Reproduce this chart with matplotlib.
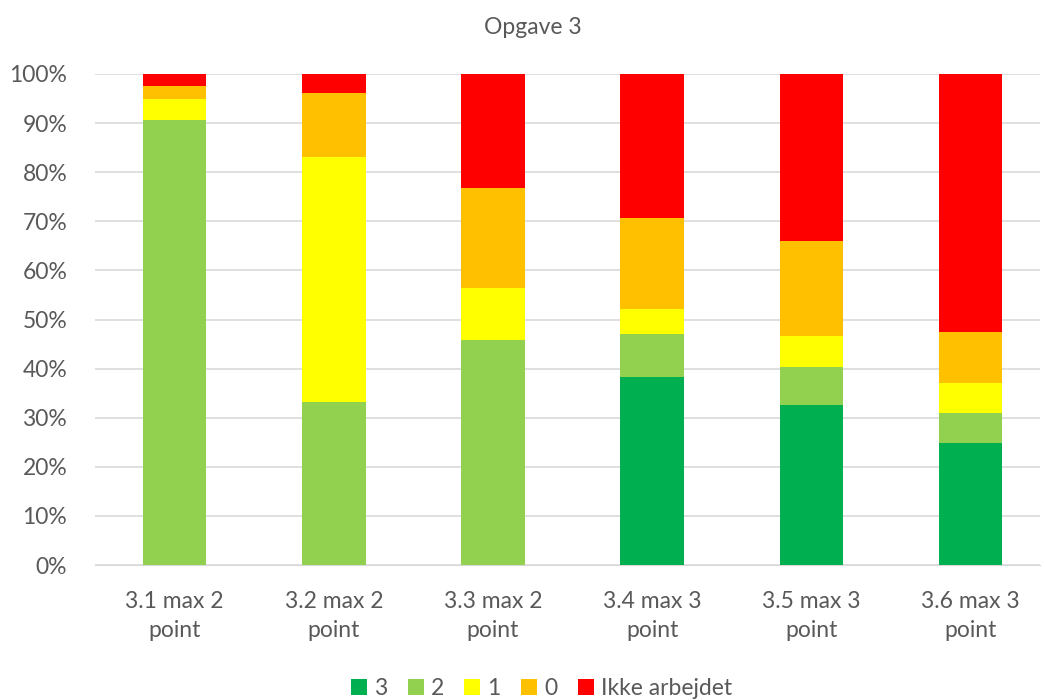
import matplotlib.pyplot as plt
import numpy as np

plt.rcParams['font.family'] = ['Lato', 'DejaVu Sans']

categories = ["3.1 max 2\npoint", "3.2 max 2\npoint", "3.3 max 2\npoint",
              "3.4 max 3\npoint", "3.5 max 3\npoint", "3.6 max 3\npoint"]
p3 = [0.0, 0.0, 0.0, 38.2, 32.6, 24.8]
p2 = [90.6, 33.2, 45.8, 8.8, 7.7, 6.1]
p1 = [4.3, 49.9, 10.6, 5.2, 6.3, 6.1]
p0 = [2.6, 13.0, 20.4, 18.5, 19.3, 10.4]
ikke = [2.5, 3.9, 23.2, 29.3, 34.1, 52.6]

series = [("3", p3, "#00b050"), ("2", p2, "#92d050"), ("1", p1, "#ffff00"),
          ("0", p0, "#ffc000"), ("Ikke arbejdet", ikke, "#ff0000")]

grey = "#595959"
fs = 16.5
fig = plt.figure(figsize=(10.45, 7), dpi=100)
ax = fig.add_axes([95 / 1045, 135 / 700, 945 / 1045, 491 / 700])

x = np.arange(len(categories))
bottom = np.zeros(len(categories))
for name, vals, col in series:
    vals = np.array(vals)
    ax.bar(x, vals, 0.4, bottom=bottom, color=col, label=name, zorder=3)
    bottom += vals

ax.set_ylim(0, 100)
ax.set_xlim(-0.5, 945 / 159.2 - 0.5)
ax.set_yticks(np.arange(0, 101, 10))
ax.set_yticklabels([f"{v}%" for v in range(0, 101, 10)])
ax.set_xticks(x)
ax.set_xticklabels(categories, linespacing=1.45)
ax.tick_params(length=0, labelsize=fs, colors=grey)
ax.tick_params(axis='x', pad=19)
ax.tick_params(axis='y', pad=20)
ax.grid(axis='y', color="#d9d9d9", linewidth=1.2, zorder=0)
for s in ["top", "right", "left"]:
    ax.spines[s].set_visible(False)
ax.spines["bottom"].set_color("#d9d9d9")

fig.text(0.51, 0.96, "Opgave 3", ha="center", va="center", fontsize=fs, color=grey)
fig.legend(loc="center", bbox_to_anchor=(0.518, 0.017), ncol=5, frameon=False,
           fontsize=fs, labelcolor=grey, handlelength=0.7, handleheight=0.7,
           handletextpad=0.3, columnspacing=0.9)

fig.savefig("out.png", dpi=100)
